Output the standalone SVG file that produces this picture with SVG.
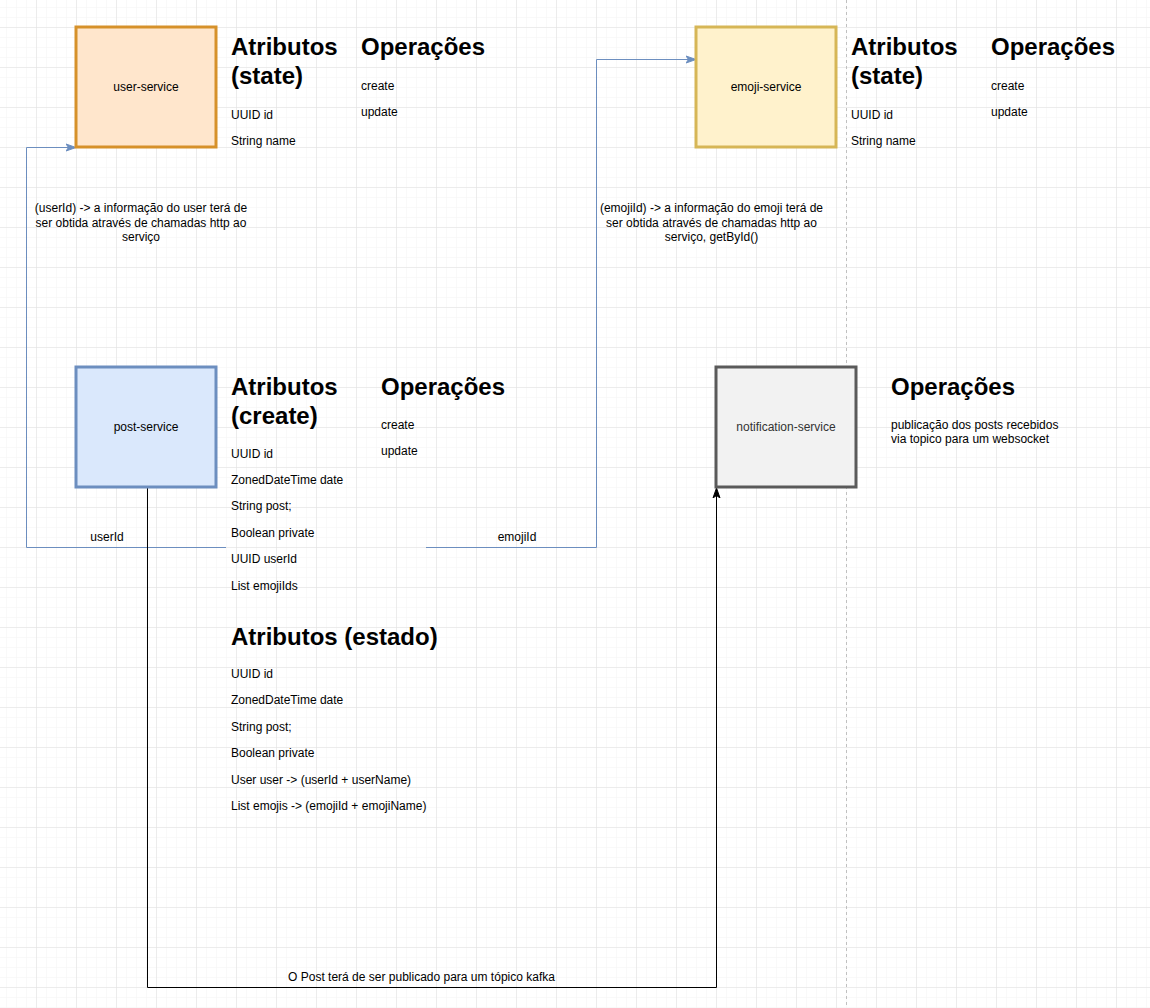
<svg xmlns="http://www.w3.org/2000/svg" width="1150" height="1008" viewBox="0 0 1150 1008">
<style>
.h{font-family:"Liberation Sans",Arial,Helvetica,sans-serif;font-size:24px;font-weight:bold;fill:#000}
.t{font-family:"Liberation Sans",Arial,Helvetica,sans-serif;font-size:12px;fill:#000}
.c{text-anchor:middle}
.box{stroke-width:3}
.blue{fill:none;stroke:#6c8ebf;stroke-width:1}
.blk{fill:none;stroke:#000;stroke-width:1}
</style>
<defs>
<pattern id="minor" x="6" y="7" width="10" height="10" patternUnits="userSpaceOnUse">
<path d="M0 0H10M0 0V10" fill="none" stroke="#f3f3f3" stroke-width="1"/>
</pattern>
<pattern id="major" x="36" y="27" width="40" height="40" patternUnits="userSpaceOnUse">
<path d="M0 0H40M0 0V40" fill="none" stroke="#e0e0e0" stroke-width="1"/>
</pattern>
<marker id="arrB" viewBox="0 0 10 10" refX="9" refY="5" markerWidth="10" markerHeight="10" markerUnits="userSpaceOnUse" orient="auto">
<path d="M0 1.5L10 5L0 8.5L2.5 5Z" fill="#6c8ebf" stroke="#6c8ebf"/>
</marker>
<marker id="arrK" viewBox="0 0 10 10" refX="9" refY="5" markerWidth="10" markerHeight="10" markerUnits="userSpaceOnUse" orient="auto">
<path d="M0 1.5L10 5L0 8.5L2.5 5Z" fill="#000" stroke="#000"/>
</marker>
</defs>
<rect width="1150" height="1008" fill="#fff"/>
<rect width="1150" height="1008" fill="url(#minor)"/>
<rect width="1150" height="1008" fill="url(#major)"/>
<line x1="846.5" y1="0" x2="846.5" y2="1008" stroke="#c0c0c0" stroke-width="1" stroke-dasharray="3 3"/>

<g id="connectors">
<path class="blue" d="M226 547.5H26.5V147.5H75" marker-end="url(#arrB)"/>
<path class="blue" d="M426 547.5H596.5V59.5H695" marker-end="url(#arrB)"/>
<path class="blk" d="M147.5 487V987.5H716.5V489" marker-end="url(#arrK)"/>
<text class="t c" x="107" y="541">userId</text>
<text class="t c" x="517" y="541">emojiId</text>
<text class="t c" x="421.5" y="981">O Post terá de ser publicado para um tópico kafka</text>
<text class="t c" x="141" y="212">(userId) -&gt; a informação do user terá de</text>
<text class="t c" x="141" y="226.5">ser obtida através de chamadas http ao</text>
<text class="t c" x="141" y="241">serviço</text>
<text class="t c" x="711.5" y="212">(emojiId) -&gt; a informação do emoji terá de</text>
<text class="t c" x="711.5" y="226.5">ser obtida através de chamadas http ao</text>
<text class="t c" x="711.5" y="241">serviço, getById()</text>
</g>

<g id="user-service">
<rect class="box" x="76" y="27" width="140" height="120" fill="#ffe6cc" stroke="#d6912a"/>
<text class="t c" x="146" y="91">user-service</text>
</g>
<g id="user-attrs">
<text class="h" x="231" y="55">Atributos</text>
<text class="h" x="231" y="84">(state)</text>
<text class="t" x="231" y="118.5">UUID id</text>
<text class="t" x="231" y="144.9">String name</text>
</g>
<g id="user-ops">
<text class="h" x="361" y="55">Operações</text>
<text class="t" x="361" y="89.5">create</text>
<text class="t" x="361" y="115.9">update</text>
</g>

<g id="emoji-service">
<rect class="box" x="696" y="27" width="140" height="120" fill="#fff2cc" stroke="#d6b656"/>
<text class="t c" x="766" y="91">emoji-service</text>
</g>
<g id="emoji-attrs">
<text class="h" x="851" y="55">Atributos</text>
<text class="h" x="851" y="84">(state)</text>
<text class="t" x="851" y="118.5">UUID id</text>
<text class="t" x="851" y="144.9">String name</text>
</g>
<g id="emoji-ops">
<text class="h" x="991" y="55">Operações</text>
<text class="t" x="991" y="89.5">create</text>
<text class="t" x="991" y="115.9">update</text>
</g>

<g id="post-service">
<rect class="box" x="76" y="367" width="140" height="120" fill="#dae8fc" stroke="#6c8ebf"/>
<text class="t c" x="146" y="431">post-service</text>
</g>
<g id="post-create-attrs">
<text class="h" x="231" y="395">Atributos</text>
<text class="h" x="231" y="424">(create)</text>
<text class="t" x="231" y="457.5">UUID id</text>
<text class="t" x="231" y="483.9">ZonedDateTime date</text>
<text class="t" x="231" y="510.3">String post;</text>
<text class="t" x="231" y="536.7">Boolean private</text>
<text class="t" x="231" y="563.1">UUID userId</text>
<text class="t" x="231" y="589.5">List emojiIds</text>
</g>
<g id="post-ops">
<text class="h" x="381" y="395">Operações</text>
<text class="t" x="381" y="428.5">create</text>
<text class="t" x="381" y="454.9">update</text>
</g>
<g id="post-state-attrs">
<text class="h" x="231" y="645">Atributos (estado)</text>
<text class="t" x="231" y="678">UUID id</text>
<text class="t" x="231" y="704.4">ZonedDateTime date</text>
<text class="t" x="231" y="730.8">String post;</text>
<text class="t" x="231" y="757.2">Boolean private</text>
<text class="t" x="231" y="783.6">User user -&gt; (userId + userName)</text>
<text class="t" x="231" y="810">List emojis -&gt; (emojiId + emojiName)</text>
</g>

<g id="notification-service">
<rect class="box" x="716" y="367" width="140" height="120" fill="#f2f2f2" stroke="#5a5a5a"/>
<text class="t c" x="786" y="431" style="fill:#333">notification-service</text>
</g>
<g id="notification-ops">
<text class="h" x="891" y="395">Operações</text>
<text class="t" x="891" y="428.5">publicação dos posts recebidos</text>
<text class="t" x="891" y="442.9">via topico para um websocket</text>
</g>
</svg>
